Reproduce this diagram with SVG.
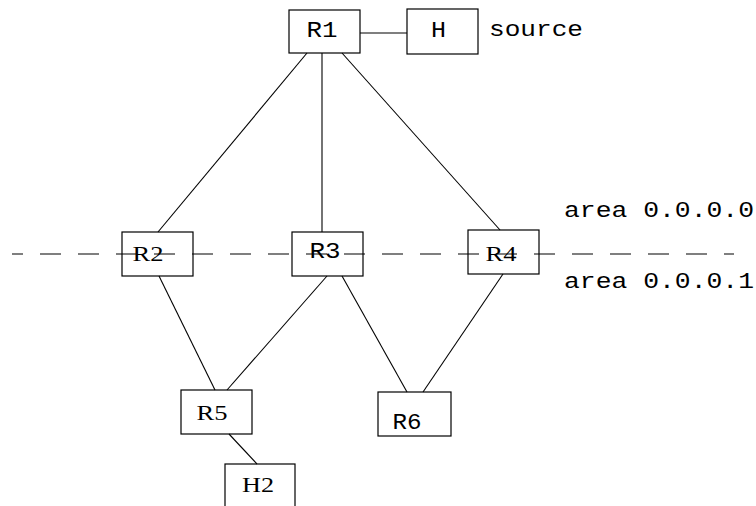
<svg xmlns="http://www.w3.org/2000/svg" width="756" height="506" viewBox="0 0 756 506">
<style>
.box{fill:none;stroke:#000;stroke-width:1.2}
.edge{stroke:#000;stroke-width:1.1;fill:none}
.mono{font-family:"Liberation Mono","Courier New",monospace;font-size:22px;fill:#000}
.serif{font-family:"Liberation Serif","Times New Roman",serif;font-size:21px;fill:#000}
.mid{text-anchor:middle}
</style>
<rect width="756" height="506" fill="#fff"/>
<g id="connectors">
<line class="edge" x1="360" y1="33" x2="407" y2="33"/>
<line class="edge" x1="307" y1="53" x2="158" y2="232"/>
<line class="edge" x1="322" y1="53" x2="322" y2="232"/>
<line class="edge" x1="342" y1="53" x2="500" y2="230"/>
<line class="edge" x1="159" y1="276" x2="215" y2="390"/>
<line class="edge" x1="327" y1="276" x2="227" y2="390"/>
<line class="edge" x1="342" y1="276" x2="407" y2="392"/>
<line class="edge" x1="503" y1="274" x2="423" y2="392"/>
<line class="edge" x1="229" y1="434" x2="257" y2="464"/>
</g>
<g id="area-boundary">
<line class="edge" x1="12" y1="254" x2="734" y2="254" stroke-dasharray="21 17" stroke-dashoffset="10"/>
<text class="mono" x="564" y="217" textLength="190" lengthAdjust="spacingAndGlyphs">area 0.0.0.0</text>
<text class="mono" x="564" y="288" textLength="190" lengthAdjust="spacingAndGlyphs">area 0.0.0.1</text>
</g>
<g id="R1"><rect class="box" x="289" y="10" width="71" height="43"/><text class="mono mid" x="322" y="37" textLength="31" lengthAdjust="spacingAndGlyphs">R1</text></g>
<g id="H"><rect class="box" x="407" y="9" width="71" height="45"/><text class="mono mid" x="438.5" y="37" textLength="15" lengthAdjust="spacingAndGlyphs">H</text><text class="mono" x="489" y="36" textLength="94" lengthAdjust="spacingAndGlyphs">source</text></g>
<g id="R2"><rect class="box" x="122" y="232" width="71" height="44"/><text class="serif mid" x="148" y="261" textLength="31" lengthAdjust="spacingAndGlyphs">R2</text></g>
<g id="R3"><rect class="box" x="292" y="232" width="71" height="44"/><text class="mono mid" x="325" y="258" textLength="31" lengthAdjust="spacingAndGlyphs">R3</text></g>
<g id="R4"><rect class="box" x="468" y="230" width="71" height="44"/><text class="serif mid" x="501" y="261" textLength="31" lengthAdjust="spacingAndGlyphs">R4</text></g>
<g id="R5"><rect class="box" x="181" y="390" width="71" height="44"/><text class="serif mid" x="212" y="420" textLength="31" lengthAdjust="spacingAndGlyphs">R5</text></g>
<g id="R6"><rect class="box" x="378" y="392" width="73" height="44"/><text class="mono mid" x="407" y="429" textLength="29" lengthAdjust="spacingAndGlyphs">R6</text></g>
<g id="H2"><rect class="box" x="225" y="464" width="70" height="60"/><text class="serif mid" x="258" y="492" textLength="32" lengthAdjust="spacingAndGlyphs">H2</text></g>
</svg>
